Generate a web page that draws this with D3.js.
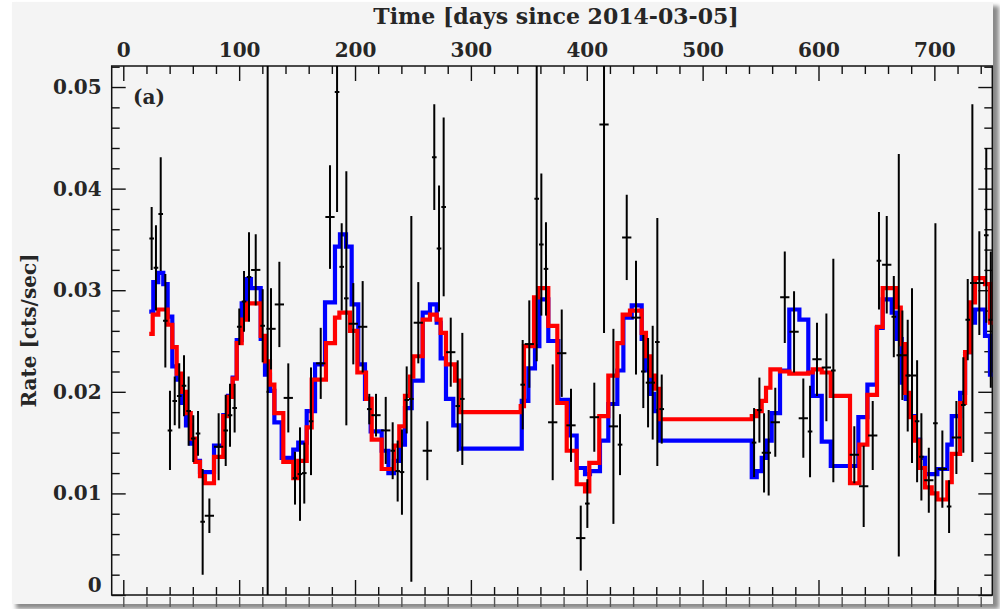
<!DOCTYPE html>
<html><head><meta charset="utf-8">
<script src="https://cdn.jsdelivr.net/npm/d3@7"></script>
<style>
html,body{margin:0;padding:0;background:#fff;}
svg{display:block;}
text{font-family:"DejaVu Serif",serif;font-weight:bold;fill:#262626;}
</style></head>
<body>
<svg id="c" width="1000" height="609"></svg>
<script>
// ---- data ----
const xTicks = [0,100,200,300,400,500,600,700];
const yTicks = [0,0.01,0.02,0.03,0.04,0.05];
// data points: time (days), rate, rate error, time half-width
const pTime = [24.5,28.2,32.3,36.3,40.3,44.4,48.3,52.4,56.4,60.4,64.5,68.5,74.3,82.3,88.4,92.1,96.1,100.1,104.2,
  108.5,114.3,120.3,124.6,127.5,134.7,142.4,148.2,152.5,156.2,162.0,170.4,178.4,184.5,188.5,192.5,198.5,206.6,212.3,218.1,
  226.5,232.5,236.8,240.5,244.6,248.6,254.6,262.4,268.4,272.5,276.5,282.6,288.6,292.6,
  344.7,350.4,356.8,360.8,364.8,370.6,378.4,386.4,394.8,400.5,406.5,414.9,423.0,428.7,434.5,442.5,
  448.8,452.9,456.9,460.9,464.7,544.4,549.0,553.0,557.0,
  562.7,570.9,578.9,586.9,592.7,598.7,606.8,612.8,630.9,639.0,646.8,652.2,
  658.9,665.0,669.3,672.4,677.0,680.7,685.1,688.8,695.2,700.9,706.9,712.7,719.0,725.0,728.8,732.8,738.8,744.8,748.7];
const pRate = [0.0351,0.0322,0.0375,0.0270,0.0162,0.0191,0.0196,0.0206,0.0181,0.0154,0.0159,0.0072,0.0078,0.0146,0.0162,0.0177,0.0184,0.0264,0.0289,
  0.0313,0.0320,0.0265,0.0200,0.0262,0.0286,0.0194,0.0115,0.0119,0.0120,0.0171,0.0228,0.0372,0.0495,0.0323,0.0292,0.0267,0.0264,0.0183,0.0177,
  0.0162,0.0142,0.0122,0.0121,0.0192,0.0193,0.0268,0.0142,0.0431,0.0341,0.0382,0.0239,0.0186,0.0193,
  0.0207,0.0247,0.0390,0.0345,0.0321,0.0170,0.0238,0.0167,0.0056,0.0090,0.0175,0.0463,0.0166,0.0148,0.0352,0.0273,
  0.0220,0.0209,0.0209,0.0249,0.0183,0.0150,0.0182,0.0140,0.0140,
  0.0170,0.0293,0.0259,0.0174,0.0161,0.0232,0.0224,0.0221,0.0138,0.0107,0.0157,0.0329,
  0.0325,0.0274,0.0236,0.0236,0.0216,0.0216,0.0171,0.0136,0.0113,0.0169,0.0124,0.0087,0.0155,0.0187,0.0271,0.0307,0.0307,0.0354,0.0271];
const pErr = [0.0031,0.0042,0.0056,0.0046,0.0039,0.0024,0.0032,0.0030,0.0034,0.0023,0.0022,0.0052,0.0017,0.0033,0.0035,0.0031,0.0024,0.0018,0.0030,
  0.0044,0.0035,0.0036,0.0400,0.0040,0.0042,0.0034,0.0026,0.0046,0.0030,0.0053,0.0035,0.0051,0.0118,0.0043,0.0125,0.0040,0.0045,0.0015,0.0021,
  0.0033,0.0028,0.0030,0.0042,0.0033,0.0180,0.0040,0.0029,0.0052,0.0062,0.0088,0.0034,0.0045,0.0065,
  0.0044,0.0043,0.0160,0.0070,0.0046,0.0057,0.0043,0.0036,0.0032,0.0024,0.0034,0.0205,0.0096,0.0030,0.0042,0.0056,
  0.0036,0.0044,0.0056,0.0122,0.0034,0.0034,0.0032,0.0039,0.0042,
  0.0034,0.0045,0.0040,0.0039,0.0045,0.0036,0.0053,0.0110,0.0028,0.0040,0.0034,0.0048,
  0.0048,0.0040,0.0198,0.0044,0.0055,0.0086,0.0060,0.0043,0.0032,0.0197,0.0038,0.0026,0.0036,0.0047,0.0040,0.0176,0.0051,0.0086,0.0067];
const pTerr = [2,2,2,2,2,2,2,2,2,2,2,2,4,4,2,2,2,2,2,
  2,4,2,1,4,4,4,2,2,2,2,4,4,2,2,2,4,4,2,4,
  4,2,2,2,2,2,4,4,2,2,2,4,2,2,
  2,4,2,2,2,4,4,4,4,2,4,4,4,2,4,4,
  2,2,2,2,2,2,2,2,2,
  4,4,4,4,2,4,4,2,4,4,4,2,
  4,2,2,4,2,4,2,2,4,2,4,2,4,2,2,2,4,2,2];
// model step curves: [start day, rate]
const blueSteps = [[22.4,0.0279],[25.9,0.0308],[30.2,0.0317],[34.5,0.0306],[38.3,0.0274],[42.3,0.0225],[46.1,0.0212],[50.1,0.0189],[54.1,0.0167],[58.2,0.0149],[62.1,0.0132],[66.2,0.0121],[78.3,0.0147],[86.3,0.0177],[90.4,0.0196],[94.4,0.0214],[97.9,0.0251],[102.2,0.0287],[105.9,0.0311],[110.2,0.0302],[118.6,0.0252],[122.3,0.0217],[126.6,0.0201],[130.4,0.0170],[136.7,0.0135],[146.7,0.0143],[151,0.0150],[158.3,0.0181],[165.5,0.0227],[174.1,0.0288],[182.7,0.0343],[187,0.0355],[192.2,0.0343],[197.1,0.0286],[202.8,0.0227],[208.6,0.0193],[213.5,0.0161],[223,0.0142],[228.8,0.0120],[233.6,0.0132],[238.2,0.0148],[243.1,0.0184],[248.9,0.0211],[258.4,0.0278],[264.7,0.0286],[270.5,0.0268],[273.9,0.0233],[278.5,0.0193],[284.8,0.0167],[290,0.0144],[343.9,0.0191],[349.6,0.0223],[355.3,0.0245],[359.1,0.0291],[366.8,0.0250],[375.5,0.0192],[384.1,0.0157],[391.3,0.0125],[398.5,0.0119],[402.8,0.0122],[411.4,0.0152],[418.6,0.0188],[426.4,0.0221],[431.6,0.0273],[438.8,0.0285],[447.4,0.0252],[450.3,0.0221],[454.6,0.0198],[458.3,0.0181],[463.2,0.0152],[542.4,0.0116],[546.7,0.0122],[551,0.0135],[554.7,0.0152],[559.6,0.0179],[566.8,0.0221],[574.8,0.0281],[583.5,0.0271],[591.2,0.0219],[595,0.0196],[602.8,0.0151],[610.6,0.0127],[634.4,0.0175],[642.2,0.0207],[650.3,0.0263],[655.4,0.0291],[663.2,0.0278],[667.5,0.0252],[671.8,0.0209],[675.3,0.0193],[679,0.0176],[683.3,0.0153],[687.6,0.0135],[692,0.0119],[702.6,0.0124],[711.2,0.0148],[715,0.0176],[722.2,0.0199],[726.5,0.0239],[730.8,0.0268],[735.1,0.0281],[743.7,0.0255],[748,0.0217],[755,0.0217]];
const redSteps = [[22.4,0.0257],[25.4,0.0276],[30.2,0.0281],[38.3,0.0266],[42.3,0.0244],[46.1,0.0218],[50.3,0.0200],[54.1,0.0179],[58.2,0.0154],[62.1,0.0131],[66.2,0.0117],[70.5,0.0110],[78.3,0.0136],[86.3,0.0176],[90.4,0.0195],[94.4,0.0213],[97.9,0.0248],[102.2,0.0271],[105.9,0.0287],[118.6,0.0255],[122.3,0.0230],[126.6,0.0207],[130.4,0.0179],[138.1,0.0131],[146.7,0.0115],[151,0.0132],[158.3,0.0165],[162.6,0.0212],[174.9,0.0248],[182.7,0.0273],[186.5,0.0278],[195.7,0.0260],[202,0.0219],[209.5,0.0193],[214.4,0.0153],[223,0.0124],[233.6,0.0147],[238.2,0.0166],[243.1,0.0196],[247.5,0.0215],[250.3,0.0235],[258.4,0.0271],[264.7,0.0276],[270.5,0.0271],[273.9,0.0258],[278.5,0.0227],[286.3,0.0211],[290,0.0180],[343,0.0186],[345.8,0.0245],[354.5,0.0293],[358.2,0.0302],[366.8,0.0265],[374.6,0.0189],[382.7,0.0142],[391.3,0.0109],[398.5,0.0102],[402.2,0.0130],[410.8,0.0176],[418.6,0.0216],[426.4,0.0248],[431,0.0276],[437.3,0.0280],[447.4,0.0258],[451.1,0.0235],[455.2,0.0216],[458.9,0.0203],[463.2,0.0173],[542.4,0.0176],[546.7,0.0181],[551,0.0191],[554.7,0.0204],[558.5,0.0222],[566.8,0.0220],[574.8,0.0218],[591.2,0.0219],[595,0.0222],[602.8,0.0219],[610.6,0.0196],[627.2,0.0110],[635.3,0.0148],[642.2,0.0197],[650.5,0.0264],[655.4,0.0302],[666.9,0.0283],[671,0.0247],[674.7,0.0199],[679,0.0175],[683.3,0.0152],[687.6,0.0125],[692,0.0106],[697.7,0.0100],[702.6,0.0094],[711.2,0.0111],[715,0.0139],[722.2,0.0189],[726.5,0.0239],[730.8,0.0288],[735.1,0.0312],[743.7,0.0306],[748,0.0268],[755,0.0268]];

// ---- layout ----
const L = 111.7, R = 992.3, T = 66, B = 595;
const svg = d3.select("#c");
const x = d3.scaleLinear().domain([-10, 750]).range([L, R]);
const y = d3.scaleLinear().domain([0, 0.05207]).range([B, T]);

const defs = svg.append("defs");
const f = defs.append("filter").attr("id","sh").attr("x","-5%").attr("y","-5%").attr("width","110%").attr("height","110%");
f.append("feGaussianBlur").attr("stdDeviation", 2.2);
defs.append("clipPath").attr("id","plot").append("rect").attr("x",L).attr("y",T).attr("width",R-L).attr("height",B-T);
defs.append("clipPath").attr("id","panel").append("rect").attr("x",12).attr("y",2).attr("width",981).attr("height",602);

// panel with shadow
svg.append("rect").attr("x",16).attr("y",6).attr("width",983).attr("height",603).attr("fill","#8a8a8a").attr("filter","url(#sh)");
svg.append("rect").attr("x",12).attr("y",2).attr("width",981).attr("height",602).attr("fill","#f4f4f4");

const xMinor = d3.range(-0, 751, 20).filter(d => d % 100 !== 0);
const yMinor = d3.range(0, 0.0521, 0.002).filter(v => Math.abs(v*100 - Math.round(v*100)) > 1e-6);

function styleAxis(g){ g.select(".domain").remove(); g.selectAll("line").attr("stroke","#111").attr("stroke-width",1.4); }

// top axis
svg.append("g").attr("transform",`translate(0,${T})`)
  .call(d3.axisTop(x).tickValues(xTicks).tickFormat(d3.format("d")).tickSizeInner(-15).tickSizeOuter(0).tickPadding(9))
  .call(styleAxis)
  .call(g => g.selectAll("text").attr("font-size",20).attr("font-family","DejaVu Serif").attr("font-weight","bold").attr("fill","#262626"));
svg.append("g").attr("transform",`translate(0,${T})`)
  .call(d3.axisTop(x).tickValues(xMinor).tickFormat("").tickSizeInner(-8).tickSizeOuter(0)).call(styleAxis);
// bottom axis
svg.append("g").attr("transform",`translate(0,${B})`)
  .call(d3.axisBottom(x).tickValues(xTicks).tickFormat("").tickSizeInner(-15).tickSizeOuter(0)).call(styleAxis);
svg.append("g").attr("transform",`translate(0,${B})`)
  .call(d3.axisBottom(x).tickValues(xMinor).tickFormat("").tickSizeInner(-8).tickSizeOuter(0)).call(styleAxis);
// next panel's ticks just visible below
svg.append("g").attr("clip-path","url(#panel)").attr("transform",`translate(0,${B})`)
  .call(d3.axisBottom(x).tickValues(xTicks.concat(xMinor)).tickFormat("").tickSizeInner(12).tickSizeOuter(0)).call(styleAxis)
  .call(g => g.selectAll("line").attr("stroke","#555"));
// left axis
svg.append("g").attr("transform",`translate(${L},0)`)
  .call(d3.axisLeft(y).tickValues(yTicks).tickFormat(d => d === 0 ? "0" : d3.format(".2f")(d)).tickSizeInner(-14).tickSizeOuter(0).tickPadding(10))
  .call(styleAxis)
  .call(g => g.selectAll("text").attr("font-size",20).attr("font-family","DejaVu Serif").attr("font-weight","bold").attr("fill","#262626"))
  .call(g => g.selectAll(".tick").filter(d => d === 0).select("text").attr("dy","-0.2em"));
svg.append("g").attr("transform",`translate(${L},0)`)
  .call(d3.axisLeft(y).tickValues(yMinor).tickFormat("").tickSizeInner(-8).tickSizeOuter(0)).call(styleAxis);
// right axis
svg.append("g").attr("transform",`translate(${R},0)`)
  .call(d3.axisRight(y).tickValues(yTicks).tickFormat("").tickSizeInner(-14).tickSizeOuter(0)).call(styleAxis);
svg.append("g").attr("transform",`translate(${R},0)`)
  .call(d3.axisRight(y).tickValues(yMinor).tickFormat("").tickSizeInner(-8).tickSizeOuter(0)).call(styleAxis);

// frame
svg.append("rect").attr("x",L).attr("y",T).attr("width",R-L).attr("height",B-T)
  .attr("fill","none").attr("stroke","#111").attr("stroke-width",1.5);

// curves
const gp = svg.append("g").attr("clip-path","url(#plot)");
const step = d3.line().x(d => x(d[0])).y(d => y(d[1])).curve(d3.curveStepAfter);
gp.append("path").attr("d", step(blueSteps)).attr("fill","none").attr("stroke","#0000ff").attr("stroke-width",4.2).attr("stroke-linejoin","miter");
gp.append("path").attr("d", step(redSteps)).attr("fill","none").attr("stroke","#ff0000").attr("stroke-width",4.2).attr("stroke-linejoin","miter");

// data points
const pts = pTime.map((t,i) => ({t, r:pRate[i], e:pErr[i], w:pTerr[i]}));
const gd = gp.append("g").attr("stroke","#000").attr("stroke-width",2);
gd.selectAll("line.v").data(pts).join("line").attr("class","v")
  .attr("x1", d => x(d.t)).attr("x2", d => x(d.t))
  .attr("y1", d => y(d.r - d.e)).attr("y2", d => y(d.r + d.e));
gd.selectAll("line.h").data(pts).join("line").attr("class","h")
  .attr("x1", d => x(d.t - d.w)).attr("x2", d => x(d.t + d.w))
  .attr("y1", d => y(d.r)).attr("y2", d => y(d.r));

// labels
svg.append("text").attr("x",(L+R)/2+4).attr("y",24).attr("text-anchor","middle").attr("font-size",22).text("Time [days since 2014-03-05]");
svg.append("text").attr("transform",`translate(36,${(T+B)/2}) rotate(-90)`).attr("text-anchor","middle").attr("font-size",20).text("Rate [cts/sec]");
svg.append("text").attr("x",133).attr("y",104).attr("font-size",20).text("(a)");
</script>
</body></html>
